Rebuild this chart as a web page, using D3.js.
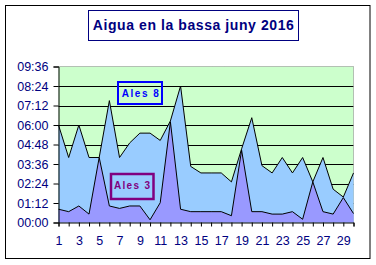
<!DOCTYPE html>
<html><head><meta charset="utf-8">
<script src="https://cdn.jsdelivr.net/npm/d3@7"></script>
<style>html,body{margin:0;padding:0;background:#fff;}svg{display:block;}</style>
</head><body>
<script>
const title = "Aigua en la bassa juny 2016";
const days = [1,2,3,4,5,6,7,8,9,10,11,12,13,14,15,16,17,18,19,20,21,22,23,24,25,26,27,28,29,30];
// minutes
const ales8 = [360,240,360,240,240,450,240,294,330,330,303,375,504,207,183,183,183,150,272,387,210,183,240,183,240,150,240,123,94,183];
const ales3 = [49,40,61,31,240,61,52,61,61,10,73,372,49,40,40,40,40,25,267,40,40,31,31,40,12,150,40,31,92,33];
const yTicks = [0,72,144,216,288,360,432,504,576];
const xLabels = [1,3,5,7,9,11,13,15,17,19,21,23,25,27,29];
const seriesNames = ["Ales 8","Ales 3"];

const W = 376, H = 265;
const font = "'Liberation Sans', Arial, sans-serif";
const navy = "#000080";
const svg = d3.select("body").append("svg").attr("width", W).attr("height", H);

svg.append("rect").attr("x",5.5).attr("y",5.5).attr("width",364.5).attr("height",253)
  .attr("fill","#fff").attr("stroke","#000").attr("stroke-width",1);

const L = 58.5, R = 353.5, T = 66.5, B = 222.5;
const x = d3.scaleLinear().domain([1,30]).range([L,R]);
const y = d3.scaleLinear().domain([0,576]).range([B,T]);

svg.append("rect").attr("x",L).attr("y",T).attr("width",R-L).attr("height",B-T).attr("fill","#CCFFCC");

// gridlines
svg.append("g").selectAll("line").data(yTicks.slice(1,-1)).join("line")
  .attr("x1",L).attr("x2",R).attr("y1",d=>Math.round(y(d))+0.5).attr("y2",d=>Math.round(y(d))+0.5)
  .attr("stroke","#000").attr("stroke-width",1);

// dotted border top/right
svg.append("path").attr("d",`M${L},${T}H${R}V${B}`).attr("fill","none")
  .attr("stroke","#808080").attr("stroke-width",1).attr("stroke-dasharray","1,1");

const area = d3.area().x((d,i)=>x(days[i])).y0(y(0)).y1(d=>y(d));
const line = d3.line().x((d,i)=>x(days[i])).y(d=>y(d));

svg.append("path").datum(ales8).attr("d",area).attr("fill","#99CCFF");
svg.append("path").datum(ales8).attr("d",line).attr("fill","none").attr("stroke","#000").attr("stroke-width",1);
svg.append("path").datum(ales3).attr("d",area).attr("fill","#9999FF");
svg.append("path").datum(ales3).attr("d",line).attr("fill","none").attr("stroke","#000").attr("stroke-width",1);

// axes
const fmt = m => String(Math.floor(m/60)).padStart(2,"0")+":"+String(m%60).padStart(2,"0");
const yAxis = svg.append("g").attr("transform",`translate(${L},0)`)
  .call(d3.axisLeft(y).tickValues(yTicks).tickFormat(fmt).tickSize(5).tickPadding(5));
const xAxis = svg.append("g").attr("transform",`translate(0,${B})`)
  .call(d3.axisBottom(x).tickValues(days).tickFormat(d=>xLabels.includes(d)?d:"").tickSize(4).tickPadding(10));
[yAxis,xAxis].forEach(g=>{
  g.select(".domain").attr("stroke","#000");
  g.selectAll(".tick line").attr("stroke","#000");
  g.selectAll("text").attr("fill",navy).attr("font-family",font).attr("font-size","12.5px");
});

// title
svg.append("rect").attr("x",88.5).attr("y",10.5).attr("width",210).attr("height",30)
  .attr("fill","#fff").attr("stroke",navy).attr("stroke-width",1);
svg.append("text").attr("x",193.3).attr("y",29.5).attr("text-anchor","middle")
  .attr("font-family",font).attr("font-weight","bold").attr("font-size","14px").attr("fill",navy)
  .attr("textLength",201).attr("lengthAdjust","spacing").text(title);

// series labels
svg.append("rect").attr("x",118).attr("y",82).attr("width",44).attr("height",22)
  .attr("fill","none").attr("stroke","#0000FF").attr("stroke-width",2);
svg.append("text").attr("x",140.3).attr("y",97).attr("text-anchor","middle")
  .attr("font-family",font).attr("font-weight","bold").attr("font-size","10px").attr("fill","#0000FF")
  .attr("textLength",37).attr("lengthAdjust","spacing").text(seriesNames[0]);
svg.append("rect").attr("x",111).attr("y",174).attr("width",42.5).attr("height",25)
  .attr("fill","none").attr("stroke","#800080").attr("stroke-width",2.5);
svg.append("text").attr("x",132).attr("y",189).attr("text-anchor","middle")
  .attr("font-family",font).attr("font-weight","bold").attr("font-size","10px").attr("fill","#800080")
  .attr("textLength",36).attr("lengthAdjust","spacing").text(seriesNames[1]);
</script>
</body></html>
